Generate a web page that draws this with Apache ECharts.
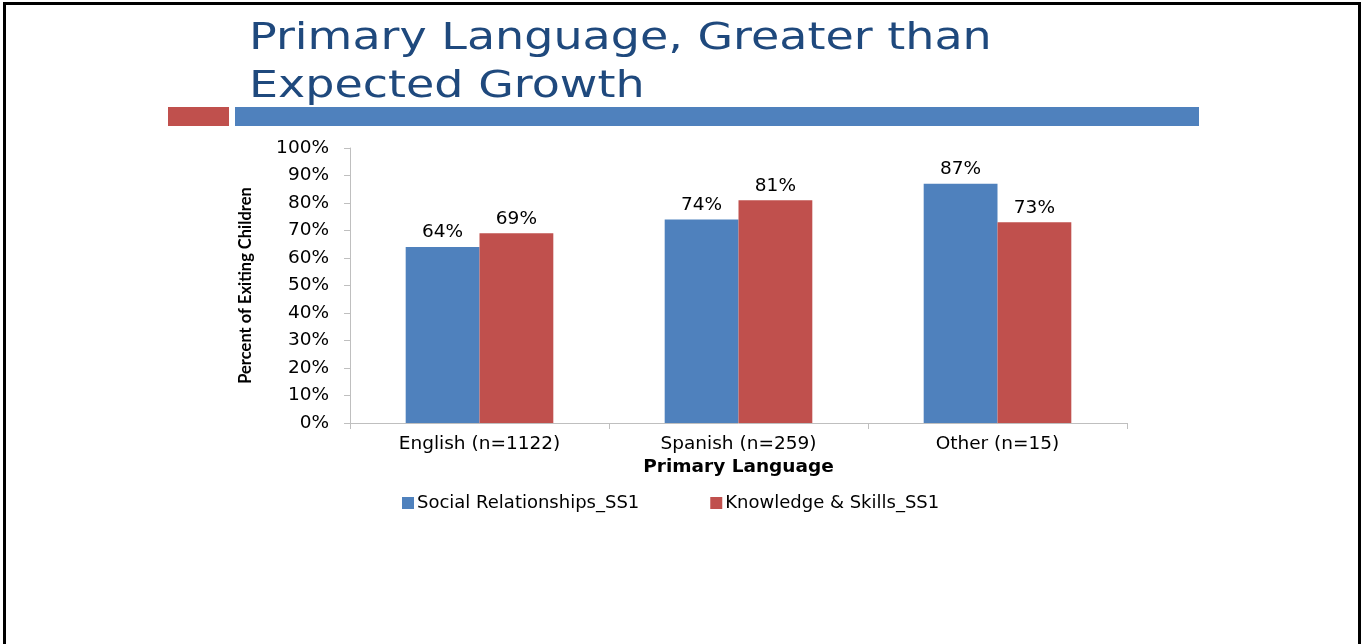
<!DOCTYPE html>
<html>
<head>
<meta charset="utf-8">
<style>
  html, body { margin: 0; padding: 0; background: #ffffff; }
  #chart { width: 1364px; height: 644px; }
</style>
<script src="https://cdn.jsdelivr.net/npm/echarts@6/dist/echarts.min.js"></script>
</head>
<body>
<div id="chart"></div>
<script>
// Exit outcomes by primary language
const categories = ['English (n=1122)', 'Spanish (n=259)', 'Other (n=15)'];
const socialRelationships = [64, 74, 87];
const knowledgeSkills = [69, 81, 73];
const seriesNames = ['Social Relationships_SS1', 'Knowledge & Skills_SS1'];
const titleLines = ['Primary Language, Greater than', 'Expected Growth'];

const bodyFont = "'DejaVu Sans', 'Lato', sans-serif";
const chart = echarts.init(document.getElementById('chart'));

const labelStyle = {
  show: true,
  position: 'top',
  distance: 5,
  color: '#000000',
  fontSize: 18.5,
  fontFamily: bodyFont,
  formatter: p => p.value + '%'
};

// Slide-style heading: wide geometric lettering, stretched horizontally
const titleText = (text, y) => ({
  type: 'text',
  x: 249,
  y: y,
  scaleX: 1.21,
  style: {
    text: text,
    fill: '#1f497d',
    font: "38px 'DejaVu Sans', sans-serif"
  }
});

chart.setOption({
  animation: false,
  backgroundColor: '#ffffff',
  grid: { left: 350, right: 237, top: 148, bottom: 221, containLabel: false },
  legend: {
    data: seriesNames,
    left: 397,
    top: 489,
    itemWidth: 12,
    itemHeight: 12,
    itemGap: 71,
    icon: 'rect',
    textStyle: { color: '#000000', fontSize: 18, fontFamily: bodyFont, padding: [0, 0, 0, -2] }
  },
  xAxis: {
    type: 'category',
    data: categories,
    name: 'Primary Language',
    nameLocation: 'middle',
    nameGap: 35,
    nameTextStyle: { color: '#000000', fontSize: 18.5, fontWeight: 'bold', fontFamily: bodyFont },
    axisLine: { lineStyle: { color: '#bfbfbf', width: 1 } },
    axisTick: { show: true, length: 6, alignWithLabel: false, lineStyle: { color: '#bfbfbf' } },
    axisLabel: { color: '#000000', fontSize: 18.5, margin: 12, fontFamily: bodyFont }
  },
  yAxis: {
    type: 'value',
    min: 0,
    max: 100,
    interval: 10,
    name: 'Percent of Exiting Children',
    nameLocation: 'middle',
    nameGap: 96,
    nameRotate: 90,
    nameTextStyle: {
      color: '#000000', fontSize: 16.5, fontWeight: 'bold',
      fontFamily: "'Liberation Sans Narrow', 'Lato', sans-serif"
    },
    axisLine: { show: true, lineStyle: { color: '#bfbfbf', width: 1 } },
    axisTick: { show: true, length: 6, lineStyle: { color: '#bfbfbf' } },
    splitLine: { show: false },
    axisLabel: { color: '#000000', fontSize: 18.5, margin: 21, fontFamily: bodyFont, formatter: '{value}%' }
  },
  series: [
    {
      name: seriesNames[0],
      type: 'bar',
      data: socialRelationships,
      barGap: '0%',
      barCategoryGap: '43%',
      itemStyle: { color: '#4f81bd' },
      label: labelStyle
    },
    {
      name: seriesNames[1],
      type: 'bar',
      data: knowledgeSkills,
      itemStyle: { color: '#c0504d' },
      label: labelStyle
    }
  ],
  graphic: [
    {
      type: 'rect',
      shape: { x: 4.5, y: 3.5, width: 1355, height: 700 },
      style: { fill: 'none', stroke: '#000000', lineWidth: 3 },
      silent: true
    },
    titleText(titleLines[0], 20),
    titleText(titleLines[1], 68),
    {
      type: 'rect',
      shape: { x: 168, y: 107, width: 61, height: 19 },
      style: { fill: '#c0504d' },
      silent: true
    },
    {
      type: 'rect',
      shape: { x: 235, y: 107, width: 964, height: 19 },
      style: { fill: '#4f81bd' },
      silent: true
    }
  ]
});
</script>
</body>
</html>
